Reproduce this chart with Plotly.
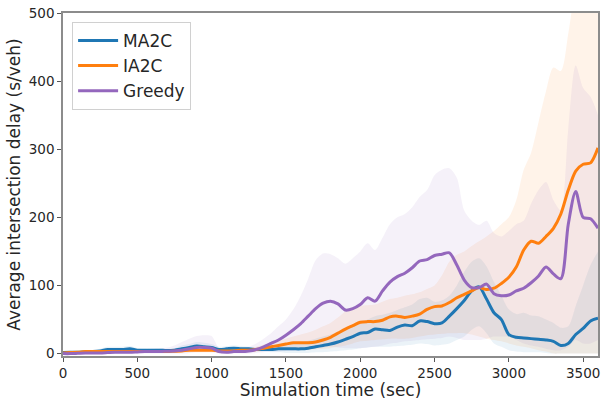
import plotly.graph_objects as go

# Simulation time grid (seconds), 50 s resolution
time_sec = list(range(0, 3601, 50))

# Mean average intersection delay (s/veh)
ma2c_mean = [1.5, 2, 2, 2.5, 3, 4, 6, 6, 6, 7, 5, 5, 5, 5, 4.5, 5, 7, 9, 11, 10,
             9, 6, 7, 8, 7, 7, 6, 6, 6, 7, 7, 7, 7, 8, 10, 12, 14, 17, 21, 25,
             30, 31, 36, 35, 34, 39, 42, 41, 48, 47, 44, 45, 55, 66, 78, 92, 98, 80, 60, 50,
             28, 24, 23, 22, 21, 20, 18, 12, 15, 28, 37, 48, 52]
ia2c_mean = [1, 1.5, 2, 3, 3, 3, 3, 3, 3, 3, 3, 3, 3, 3, 3, 3.5, 4, 5, 5, 5,
             5, 4, 4, 4, 5, 5, 6, 8, 10, 12, 14, 16, 16, 16, 17, 20, 24, 30, 36, 41,
             46, 47, 47, 49, 54, 55, 53, 55, 58, 65, 69, 70, 75, 82, 87, 92, 97, 94, 96, 103,
             112, 127, 152, 165, 162, 172, 184, 205, 240, 268, 278, 280, 302]
greedy_mean = [0, 0, 0.5, 1, 1, 1, 1.5, 2, 2, 2, 2.5, 3, 3, 3, 3.5, 4, 5, 7, 9, 9,
               8, 3, 2, 3, 3, 4, 6, 10, 15, 20, 27, 35, 44, 55, 66, 74, 77, 73, 64, 66,
               72, 82, 77, 92, 105, 113, 118, 126, 136, 138, 144, 146, 148, 130, 108, 97, 97, 102, 88, 85,
               86, 92, 96, 104, 114, 127, 117, 110, 190, 238, 200, 198, 184]

# Spread across runs (lower / upper envelope)
ma2c_low = [0, 0, 0, 1, 1, 2, 3, 3, 4, 4, 3, 3, 3, 3, 3, 3, 4, 5, 6, 6,
            5, 3, 4, 4, 4, 4, 3, 3, 2, 2, 1, 1, 1, 1, 2, 2, 3, 4, 5, 6,
            8, 9, 10, 10, 10, 11, 12, 13, 15, 14, 12, 13, 15, 20, 25, 35, 40, 30, 15, 10,
            5, 3, 2, 2, 2, 1, 0, 0, 0, 0, 0, 0, 0]
ma2c_high = [3, 3, 4, 4, 5, 7, 10, 10, 10, 11, 8, 7, 7, 7, 7, 8, 12, 14, 17, 16,
             14, 10, 11, 12, 11, 10, 9, 10, 12, 12, 13, 14, 16, 19, 22, 25, 28, 31, 35, 40,
             45, 50, 55, 57, 60, 64, 68, 72, 80, 82, 76, 78, 85, 100, 120, 135, 140, 128, 105, 85,
             65, 58, 60, 56, 55, 50, 45, 38, 40, 70, 100, 130, 150]
ia2c_low = [0, 0, 0, 1, 1, 1, 1, 1, 1, 1, 1, 1, 1, 1, 1, 1, 2, 2, 2, 2,
            2, 1, 1, 1, 2, 2, 3, 4, 5, 5, 6, 6, 6, 6, 6, 7, 8, 10, 12, 15,
            18, 19, 20, 21, 22, 22, 22, 23, 25, 27, 28, 29, 30, 30, 30, 28, 25, 22, 20, 18,
            15, 12, 10, 8, 5, 3, 0, 0, 0, 0, 0, 0, 0]
ia2c_high = [2, 3, 4, 5, 5, 5, 5, 5, 5, 5, 5, 5, 5, 5, 5, 6, 7, 8, 9, 9,
             9, 7, 7, 7, 8, 8, 10, 13, 16, 19, 22, 25, 28, 31, 35, 40, 45, 53, 62, 66,
             70, 71, 72, 76, 80, 82, 85, 87, 90, 95, 100, 115, 135, 145, 150, 158, 165, 172, 180, 190,
             200, 225, 270, 295, 340, 385, 420, 415, 470, 540, 580, 600, 620]
greedy_low = [0, 0, 0, 0, 0, 0, 0, 0, 0, 0, 0, 0, 0, 0, 0, 0, 0, 1, 2, 2,
              2, 0, 0, 0, 0, 0, 1, 2, 3, 3, 4, 4, 5, 6, 8, 9, 10, 9, 8, 8,
              8, 9, 10, 12, 15, 16, 18, 19, 20, 21, 22, 23, 25, 23, 20, 20, 20, 22, 25, 25,
              25, 20, 15, 12, 10, 7, 5, 5, 10, 20, 15, 15, 20]
greedy_high = [1, 2, 3, 3, 3, 4, 4, 5, 5, 5, 6, 6, 7, 8, 9, 12, 17, 22, 26, 27,
               26, 8, 6, 7, 8, 10, 15, 22, 30, 40, 50, 65, 85, 110, 137, 147, 146, 140, 132, 140,
               150, 162, 152, 170, 190, 200, 205, 215, 230, 240, 262, 270, 272, 258, 210, 195, 189, 195, 177, 172,
               180, 190, 195, 220, 240, 252, 225, 210, 330, 423, 390, 377, 350]

series = [
    ("MA2C", ma2c_mean, ma2c_low, ma2c_high, "31,119,180"),
    ("IA2C", ia2c_mean, ia2c_low, ia2c_high, "255,127,14"),
    ("Greedy", greedy_mean, greedy_low, greedy_high, "148,103,189"),
]

fig = go.Figure()

# Shaded spread bands
for name, mean, low, high, rgb in series:
    fig.add_trace(go.Scatter(
        x=time_sec, y=high, mode="lines",
        line=dict(width=0, shape="spline", smoothing=0.8),
        showlegend=False, hoverinfo="skip"))
    fig.add_trace(go.Scatter(
        x=time_sec, y=low, mode="lines", fill="tonexty",
        fillcolor=f"rgba({rgb},0.09)",
        line=dict(width=0, shape="spline", smoothing=0.8),
        showlegend=False, hoverinfo="skip"))

# Mean curves
for name, mean, low, high, rgb in series:
    fig.add_trace(go.Scatter(
        x=time_sec, y=mean, mode="lines", name=name, legendgroup=name,
        line=dict(color=f"rgb({rgb})", width=3, shape="spline", smoothing=0.8)))

axis_common = dict(
    showline=True, mirror=True, linecolor="#8c8c8c", linewidth=1.6,
    ticks="outside", ticklen=4, tickwidth=1, tickcolor="#555555",
    showgrid=False, zeroline=False,
    tickfont=dict(family="DejaVu Sans", size=13.5, color="#262626"),
)

fig.update_layout(
    width=603, height=400,
    margin=dict(l=63, r=3, t=13, b=44),
    plot_bgcolor="white", paper_bgcolor="white",
    font=dict(family="DejaVu Sans", color="#262626"),
    xaxis=dict(range=[0, 3600], tickvals=[0, 500, 1000, 1500, 2000, 2500, 3000, 3500],
               title=dict(text="Simulation time (sec)", font=dict(size=17), standoff=2),
               **axis_common),
    yaxis=dict(range=[-3.5, 500], tickvals=[0, 100, 200, 300, 400, 500],
               title=dict(text="Average intersection delay (s/veh)", font=dict(size=17), standoff=4),
               **axis_common),
    legend=dict(
        x=0.017, y=0.974, xanchor="left", yanchor="top",
        bgcolor="rgba(255,255,255,0.85)", bordercolor="#d0d0d0", borderwidth=1,
        font=dict(family="DejaVu Sans", size=17, color="#262626"),
        traceorder="grouped", tracegroupgap=0, itemwidth=40,
    ),
)

fig.write_html("out.html")
